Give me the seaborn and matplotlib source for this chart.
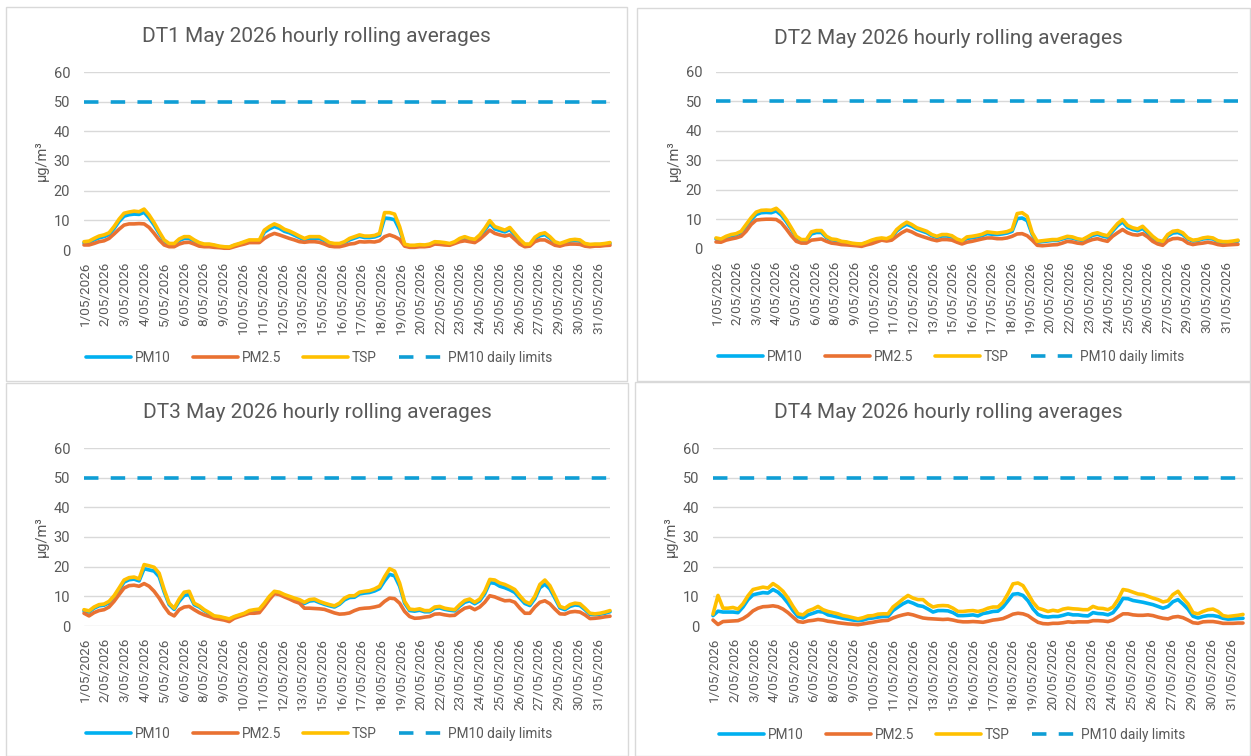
import numpy as np
import pandas as pd
import matplotlib
matplotlib.use("Agg")
import matplotlib.pyplot as plt
from matplotlib.patches import Rectangle
from matplotlib.lines import Line2D
import seaborn as sns

# ---------------- data ----------------
x_labels = ["1/05/2026", "2/05/2026", "3/05/2026", "4/05/2026", "5/05/2026", "6/05/2026",
            "8/05/2026", "9/05/2026", "10/05/2026", "11/05/2026", "12/05/2026", "13/05/2026",
            "15/05/2026", "16/05/2026", "17/05/2026", "18/05/2026", "19/05/2026", "20/05/2026",
            "22/05/2026", "23/05/2026", "24/05/2026", "25/05/2026", "26/05/2026", "27/05/2026",
            "29/05/2026", "30/05/2026", "31/05/2026"]
y_ticks = [0, 10, 20, 30, 40, 50, 60]
series_names = ["PM10", "PM2.5", "TSP"]
limit_name = "PM10 daily limits"
pm10_limit = 50

dt1_pm10 = [2.4, 2.6, 3.4, 4.1, 4.5, 5.2, 7.2, 9.6, 11.4, 11.9, 12.1, 12.0, 12.7, 10.8, 8.4, 5.6, 3.0, 1.9, 1.9, 3.2,
            3.9, 3.9, 3.0, 2.2, 1.8, 1.8, 1.5, 1.1, 0.9, 0.9, 1.5, 2.0, 2.5, 3.0, 3.0, 3.0, 6.0, 7.1, 7.9, 7.3,
            6.3, 5.8, 5.0, 4.2, 3.4, 3.9, 3.9, 3.9, 3.1, 2.2, 1.9, 1.9, 2.5, 3.4,
            4.0, 4.6, 4.2, 4.2, 4.4, 5.0, 10.8, 10.6, 10.2, 6.8, 1.8, 1.4, 1.4, 1.6, 1.5, 1.8, 2.5, 2.4, 2.2, 1.9,
            2.5, 3.4, 4.0, 3.4, 3.1, 4.5, 6.6, 9.0, 7.1, 6.6, 6.1, 6.9, 5.0, 3.2, 1.8, 1.8, 3.8, 4.8, 5.2, 4.0,
            2.5, 1.9, 2.5, 3.0, 3.2, 3.0, 1.9, 1.7, 1.8, 1.8, 1.9, 2.2]
dt1_pm25 = [1.7, 1.7, 2.2, 2.8, 3.1, 3.9, 5.4, 7.0, 8.4, 8.8, 8.8, 8.9, 8.8, 7.6, 5.6, 3.4, 1.7, 1.1, 1.1, 2.0,
            2.5, 2.6, 2.0, 1.3, 1.1, 1.1, 0.9, 0.8, 0.6, 0.6, 1.1, 1.6, 2.0, 2.5, 2.5, 2.5, 3.9, 4.9, 5.6, 5.1,
            4.5, 3.9, 3.4, 2.8, 2.6, 2.8, 2.8, 2.6, 2.0, 1.3, 1.1, 1.1, 1.5, 2.0,
            2.2, 2.8, 2.7, 2.8, 2.7, 3.1, 4.5, 5.1, 4.5, 3.6, 1.3, 0.9, 0.9, 1.1, 1.1, 1.3, 2.0, 1.9, 1.7, 1.6,
            2.2, 2.8, 3.1, 2.8, 2.5, 3.6, 5.1, 6.7, 5.6, 5.1, 4.7, 5.1, 3.6, 2.0, 1.1, 1.3, 2.8, 3.4, 3.4, 2.5,
            1.6, 1.3, 1.8, 2.0, 2.0, 1.9, 1.3, 1.1, 1.3, 1.3, 1.5, 1.6]
dt1_tsp = [2.8, 3.0, 3.9, 4.7, 5.1, 5.8, 7.9, 10.4, 12.4, 12.8, 13.1, 12.9, 13.8, 11.8, 9.2, 6.2, 3.4, 2.2, 2.2, 3.7,
           4.5, 4.5, 3.4, 2.5, 2.0, 2.0, 1.7, 1.3, 1.1, 1.0, 1.7, 2.2, 2.8, 3.4, 3.4, 3.4, 6.7, 7.9, 8.8, 8.1,
           7.0, 6.4, 5.6, 4.7, 3.9, 4.5, 4.5, 4.5, 3.6, 2.5, 2.2, 2.2, 2.8, 3.9,
           4.5, 5.1, 4.7, 4.7, 4.9, 5.6, 12.6, 12.6, 12.1, 7.9, 2.0, 1.6, 1.6, 1.8, 1.7, 2.0, 2.8, 2.7, 2.5, 2.2,
           2.8, 3.9, 4.5, 3.9, 3.6, 5.1, 7.3, 9.9, 7.9, 7.3, 6.7, 7.6, 5.6, 3.6, 2.0, 2.0, 4.3, 5.4, 5.8, 4.5,
           2.8, 2.2, 2.8, 3.4, 3.6, 3.4, 2.2, 1.9, 2.0, 2.0, 2.2, 2.5]

dt2_pm10 = [3.4, 3.1, 3.9, 4.5, 4.8, 5.5, 7.7, 9.9, 11.7, 12.3, 12.4, 12.3, 12.9, 11.5, 9.3, 6.7, 3.9, 2.9, 2.9, 5.1,
            5.6, 5.6, 3.9, 3.1, 2.9, 2.4, 2.2, 1.8, 1.6, 1.5, 2.1, 2.7, 3.2, 3.4, 3.2, 3.9, 6.1, 7.4, 8.4, 7.7,
            6.7, 6.1, 5.5, 4.5, 3.9, 4.4, 4.4, 4.1, 3.1, 2.5, 3.6, 3.8, 4.1,
            4.5, 5.2, 5.0, 4.9, 5.1, 5.4, 6.0, 10.3, 10.5, 9.6, 4.9, 2.3, 2.5, 2.7, 2.9, 2.9, 3.4, 3.9, 3.7, 3.2,
            2.9, 3.7, 4.6, 5.0, 4.4, 4.0, 6.0, 7.9, 9.2, 7.3, 6.6, 6.2, 7.0, 5.4, 3.9, 2.7, 2.3, 4.4, 5.4, 5.6,
            4.9, 3.4, 2.7, 2.9, 3.4, 3.6, 3.4, 2.5, 2.2, 2.2, 2.4, 2.7]
dt2_pm25 = [2.4, 2.3, 3.0, 3.4, 3.75, 4.3, 6.0, 8.3, 9.8, 10.0, 10.1, 10.1, 10.0, 8.9, 6.8, 4.5, 2.6, 2.0, 2.0, 3.0,
            3.2, 3.4, 2.6, 2.0, 1.8, 1.5, 1.4, 1.25, 1.1, 0.9, 1.4, 1.8, 2.4, 3.0, 2.7, 3.0, 4.3, 5.5, 6.4, 5.8,
            4.9, 4.3, 3.75, 3.2, 2.8, 3.2, 3.2, 3.0, 2.3, 1.7, 2.3, 2.6, 3.0,
            3.4, 3.75, 3.75, 3.5, 3.5, 3.75, 4.3, 5.1, 5.2, 4.5, 3.0, 1.25, 1.1, 1.25, 1.4, 1.5, 2.0, 2.6, 2.4, 2.0,
            1.8, 2.6, 3.2, 3.5, 3.0, 2.6, 4.3, 5.5, 6.6, 5.5, 4.9, 4.7, 5.2, 4.1, 2.6, 1.7, 1.25, 2.8, 3.5, 3.6,
            3.2, 2.0, 1.5, 1.8, 2.0, 2.3, 2.0, 1.5, 1.25, 1.4, 1.5, 1.6]
dt2_tsp = [3.75, 3.4, 4.3, 4.9, 5.2, 6.0, 8.3, 10.6, 12.5, 13.1, 13.2, 13.1, 13.8, 12.3, 10.0, 7.2, 4.3, 3.2, 3.2, 5.8,
           6.25, 6.25, 4.3, 3.4, 3.2, 2.6, 2.4, 2.0, 1.8, 1.7, 2.3, 3.0, 3.5, 3.75, 3.5, 4.3, 6.6, 8.0, 9.1, 8.3,
           7.2, 6.6, 6.0, 4.9, 4.3, 4.9, 4.9, 4.5, 3.4, 2.8, 4.1, 4.3, 4.6,
           5.0, 5.8, 5.6, 5.4, 5.6, 5.9, 6.6, 12.0, 12.3, 11.1, 5.5, 2.6, 2.8, 3.0, 3.2, 3.2, 3.75, 4.3, 4.1, 3.5,
           3.2, 4.1, 5.1, 5.5, 4.9, 4.5, 6.6, 8.6, 10.0, 8.0, 7.2, 6.8, 7.7, 6.0, 4.3, 3.0, 2.6, 4.9, 6.0, 6.25,
           5.5, 3.75, 3.0, 3.2, 3.75, 4.0, 3.75, 2.8, 2.5, 2.5, 2.7, 3.0]

dt3_pm10 = [5.1, 4.7, 6.0, 6.8, 7.0, 7.8, 9.7, 12.2, 14.8, 15.6, 15.8, 15.2, 19.3, 18.9, 18.5, 16.6, 11.5, 7.2, 5.6, 8.3,
            10.3, 10.6, 7.2, 6.4, 5.2, 4.2, 3.2, 3.0, 2.6, 2.2, 3.0, 3.5, 4.0, 4.9, 5.2, 5.4, 7.3, 9.6, 11.2, 10.9,
            10.1, 9.5, 8.9, 8.4, 7.6, 8.4, 8.6, 7.9, 7.3, 6.8, 6.4, 7.3, 8.8, 9.6,
            9.7, 10.8, 11.1, 11.3, 11.8, 12.6, 15.2, 17.4, 16.9, 13.4, 7.7, 5.2, 5.0, 5.3, 4.8, 4.8, 5.9, 6.1, 5.6, 5.3,
            5.1, 6.7, 8.0, 8.5, 7.5, 8.5, 10.9, 14.6, 14.4, 13.4, 12.9, 12.2, 11.3, 9.4, 7.6, 6.9, 9.2, 12.9, 14.1, 12.5,
            9.4, 6.1, 5.5, 6.6, 7.1, 6.9, 5.5, 3.9, 3.8, 4.0, 4.3, 4.8]
dt3_pm25 = [4.3, 3.4, 4.5, 5.2, 5.5, 6.4, 8.3, 10.6, 12.8, 13.6, 13.75, 13.4, 14.3, 13.4, 11.7, 9.4, 6.6, 4.3, 3.4, 5.5,
            6.4, 6.6, 5.5, 4.5, 3.75, 3.2, 2.6, 2.3, 2.0, 1.5, 2.6, 3.2, 3.75, 4.3, 4.3, 4.5, 6.6, 8.9, 10.9, 10.6,
            9.8, 9.1, 8.3, 7.7, 6.0, 6.0, 5.9, 5.8, 5.6, 5.0, 4.4, 4.0, 4.1, 4.4,
            5.2, 5.8, 6.0, 6.1, 6.4, 6.8, 8.3, 9.4, 9.2, 7.7, 4.9, 3.2, 2.6, 2.7, 3.0, 3.2, 4.0, 4.1, 3.75, 3.5,
            3.6, 4.9, 6.0, 6.4, 5.5, 6.4, 8.0, 10.2, 9.8, 9.1, 8.5, 8.6, 8.0, 6.0, 4.3, 4.3, 6.4, 8.0, 8.5, 7.5,
            5.7, 4.1, 4.0, 4.7, 4.9, 4.7, 3.75, 2.5, 2.6, 2.8, 3.1, 3.3]
dt3_tsp = [5.5, 5.1, 6.4, 7.2, 7.4, 8.3, 10.2, 12.8, 15.5, 16.3, 16.5, 15.9, 20.7, 20.3, 19.8, 17.8, 12.3, 7.7, 6.0, 9.1,
           11.4, 11.7, 7.7, 6.8, 5.5, 4.5, 3.4, 3.2, 2.8, 2.4, 3.2, 3.75, 4.3, 5.2, 5.5, 5.7, 7.7, 10.0, 11.7, 11.4,
           10.6, 10.0, 9.4, 8.9, 8.0, 8.9, 9.1, 8.3, 7.7, 7.2, 6.8, 7.7, 9.4, 10.2,
           10.2, 11.4, 11.7, 11.9, 12.5, 13.4, 16.6, 19.3, 18.5, 14.5, 8.3, 5.7, 5.5, 5.8, 5.2, 5.2, 6.4, 6.6, 6.0, 5.7,
           5.5, 7.2, 8.6, 9.1, 8.0, 9.1, 11.7, 15.7, 15.5, 14.5, 14.0, 13.2, 12.3, 10.2, 8.3, 7.5, 10.0, 14.0, 15.5, 13.6,
           10.2, 6.6, 6.0, 7.2, 7.7, 7.5, 6.0, 4.3, 4.1, 4.3, 4.7, 5.2]

dt4_pm10 = [3.5, 5.0, 4.7, 4.7, 4.7, 4.5, 6.4, 8.9, 10.5, 10.9, 11.25, 11.1, 12.3, 11.4, 9.8, 7.7, 5.2, 3.2, 2.7, 3.75,
            4.3, 4.9, 4.7, 3.75, 3.4, 3.0, 2.6, 2.3, 2.0, 1.8, 2.0, 2.5, 2.7, 3.0, 3.2, 3.2, 5.2, 6.4, 7.5, 8.3,
            7.7, 6.9, 6.6, 5.7, 4.7, 5.2, 5.2, 5.1, 4.5, 3.5, 3.5, 3.6, 3.75, 3.4,
            4.2, 4.5, 4.9, 5.0, 6.4, 8.5, 10.7, 10.9, 10.3, 8.5, 5.8, 3.9, 3.2, 3.0, 3.2, 3.2, 3.6, 4.1, 3.75, 3.75,
            3.5, 3.4, 4.5, 4.2, 4.1, 3.75, 4.5, 6.6, 9.3, 9.2, 8.6, 8.3, 8.0, 7.6, 7.2, 6.6, 6.0, 6.6, 8.2, 8.9,
            7.4, 5.7, 3.3, 2.7, 3.2, 3.5, 3.5, 3.2, 2.6, 2.3, 2.4, 2.5, 2.6]
dt4_pm25 = [2.0, 0.5, 1.5, 1.6, 1.7, 1.8, 2.5, 3.6, 5.1, 6.0, 6.5, 6.6, 6.8, 6.5, 5.7, 4.5, 3.0, 1.5, 1.25, 1.7,
            1.9, 2.2, 2.0, 1.6, 1.4, 1.1, 0.9, 0.7, 0.6, 0.45, 0.7, 1.0, 1.25, 1.6, 1.8, 1.9, 2.7, 3.3, 3.75, 4.1,
            3.75, 3.2, 2.7, 2.5, 2.4, 2.3, 2.2, 2.3, 2.0, 1.6, 1.4, 1.4, 1.5, 1.4,
            1.25, 1.6, 2.0, 2.2, 2.5, 3.2, 4.0, 4.3, 4.1, 3.5, 2.3, 1.25, 0.8, 0.7, 0.9, 0.9, 1.1, 1.4, 1.25, 1.4,
            1.4, 1.4, 1.8, 1.8, 1.7, 1.5, 2.0, 3.1, 4.1, 4.1, 3.75, 3.6, 3.6, 3.75, 3.5, 3.0, 2.6, 2.4, 3.0, 3.2,
            2.8, 2.0, 1.1, 0.9, 1.4, 1.5, 1.5, 1.25, 0.9, 0.9, 0.9, 1.0, 1.0]
dt4_tsp = [4.0, 10.3, 6.0, 6.0, 6.25, 5.7, 7.5, 10.2, 12.3, 12.7, 13.1, 12.8, 14.3, 13.2, 11.7, 9.4, 6.6, 4.1, 3.75, 5.1,
           5.7, 6.6, 5.5, 4.9, 4.5, 4.1, 3.5, 3.2, 2.8, 2.4, 2.8, 3.4, 3.5, 4.0, 4.1, 4.1, 6.4, 7.7, 9.1, 10.3,
           9.4, 8.9, 8.9, 7.4, 6.4, 6.8, 6.9, 6.8, 6.0, 4.9, 4.9, 5.1, 5.2, 4.9,
           5.3, 6.0, 6.4, 6.4, 8.0, 10.9, 14.2, 14.5, 13.6, 10.9, 8.0, 6.0, 5.5, 4.9, 5.3, 5.0, 5.7, 6.0, 5.8, 5.7,
           5.5, 5.5, 6.6, 6.0, 5.9, 5.5, 6.4, 8.9, 12.3, 12.0, 11.4, 10.8, 10.6, 10.0, 9.4, 8.9, 8.1, 8.5, 10.6, 11.7,
           9.4, 7.5, 4.5, 4.1, 4.9, 5.5, 5.7, 4.9, 3.5, 3.2, 3.4, 3.6, 3.9]

panels = [
    ("DT1 May 2026 hourly rolling averages", dt1_pm10, dt1_pm25, dt1_tsp),
    ("DT2 May 2026 hourly rolling averages", dt2_pm10, dt2_pm25, dt2_tsp),
    ("DT3 May 2026 hourly rolling averages", dt3_pm10, dt3_pm25, dt3_tsp),
    ("DT4 May 2026 hourly rolling averages", dt4_pm10, dt4_pm25, dt4_tsp),
]

# ---------------- style / layout ----------------
sns.set_style("white")
plt.rcParams['font.family'] = ['Roboto', 'DejaVu Sans']

W, H = 1251, 756
C_PM10 = "#00B0F0"
C_PM25 = "#E97132"
C_TSP = "#FFC000"
C_LIM = "#0F9ED5"
C_TXT = "#595959"
C_GRID = "#D9D9D9"
LW = 2.6
DASH = (0, (4.0, 3.4))

# (border l,t,r,b), (axes l,t,r,b), title (x,y), legend (x,y)
layout = [
    ((6, 7, 627, 381), (84, 72, 610, 250), (316, 37), (319, 358)),
    ((637, 8, 1250, 381), (716, 72, 1238, 249), (948, 38), (951, 357)),
    ((6, 383, 628, 755.5), (84, 448, 610, 626), (317, 412), (319, 734)),
    ((635, 382, 1250, 755.5), (713, 448, 1243, 626), (948, 412), (952, 735)),
]

fig = plt.figure(figsize=(W / 100, H / 100), dpi=100)
fig.patch.set_facecolor("white")

for (title, pm10, pm25, tsp), (brd, axr, tpos, lpos) in zip(panels, layout):
    bl, bt, br, bb = brd
    fig.patches.append(Rectangle((bl / W, 1 - bb / H), (br - bl) / W, (bb - bt) / H,
                                 transform=fig.transFigure, fill=False,
                                 edgecolor=C_GRID, linewidth=1.0))
    al, at, ar, ab = axr
    ax = fig.add_axes([al / W, 1 - ab / H, (ar - al) / W, (ab - at) / H])
    n = len(pm10)
    idx = np.arange(n)
    df = pd.DataFrame({
        "idx": np.concatenate([idx, idx, idx]),
        "value": np.array(pm10 + pm25 + tsp, dtype=float),
        "series": [series_names[0]] * n + [series_names[1]] * n + [series_names[2]] * n,
    })
    sns.lineplot(data=df, x="idx", y="value", hue="series", hue_order=series_names,
                 palette=[C_PM10, C_PM25, C_TSP], linewidth=LW, legend=False,
                 estimator=None, sort=False, ax=ax)
    lim_df = pd.DataFrame({"idx": [0, n - 1], "value": [pm10_limit, pm10_limit]})
    sns.lineplot(data=lim_df, x="idx", y="value", color=C_LIM, linewidth=LW,
                 linestyle=DASH, ax=ax)
    for ln in ax.get_lines():
        ln.set_clip_on(False)
        ln.set_solid_capstyle("round")

    ax.set_xlim(0, n - 1)
    ax.set_ylim(0, 60)
    ax.set_yticks(y_ticks)
    pos = np.linspace(0.003 * (n - 1), 0.978 * (n - 1), len(x_labels))
    ax.set_xticks(pos)
    ax.set_xticklabels(x_labels, rotation=90)
    ax.tick_params(axis="x", length=0, pad=8.5, labelsize=9.7, labelcolor=C_TXT)
    ax.tick_params(axis="y", length=0, pad=10, labelsize=10.5, labelcolor=C_TXT)
    ax.grid(axis="y", color=C_GRID, linewidth=1.0)
    ax.grid(axis="x", visible=False)
    ax.set_axisbelow(True)
    for s in ax.spines.values():
        s.set_visible(False)
    ax.set_xlabel("")
    ax.set_ylabel("µg/m³", fontsize=10.5, color=C_TXT, va="center")
    ax.yaxis.set_label_coords(-42 / (ar - al), 0.5)

    tx, ty = tpos
    fig.text(tx / W, 1 - ty / H, title, ha="center", va="center", fontsize=15, color=C_TXT)

    handles = [Line2D([], [], color=C_PM10, lw=LW),
               Line2D([], [], color=C_PM25, lw=LW),
               Line2D([], [], color=C_TSP, lw=LW),
               Line2D([], [], color=C_LIM, lw=LW, linestyle=DASH)]
    lx, ly = lpos
    fig.legend(handles, series_names + [limit_name], loc="center",
               bbox_to_anchor=(lx / W, 1 - ly / H), ncol=4, frameon=False,
               fontsize=9.8, handlelength=3.3, handletextpad=0.3, columnspacing=1.6,
               labelcolor=C_TXT, borderaxespad=0, borderpad=0)

fig.savefig("out.png", dpi=100, facecolor="white")
